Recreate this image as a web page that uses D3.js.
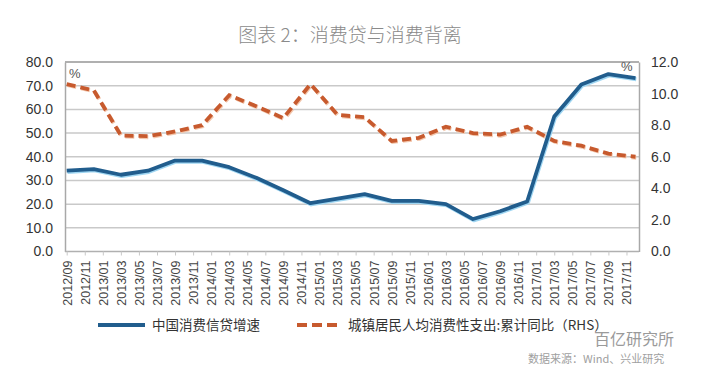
<!DOCTYPE html>
<html>
<head>
<meta charset="utf-8">
<script src="https://cdn.jsdelivr.net/npm/d3@7/dist/d3.min.js"></script>
<style>
  body { margin: 0; background: #fff; }
  svg { display: block; font-family: "Liberation Sans", Arial, sans-serif; }
  .cjk { font-family: "Noto Sans CJK SC", sans-serif; }
</style>
</head>
<body>
<div id="chart"></div>
<script>
// quarterly observations
var quarters = ["2012/09","2012/12","2013/03","2013/06","2013/09","2013/12","2014/03","2014/06",
  "2014/09","2014/12","2015/03","2015/06","2015/09","2015/12","2016/03","2016/06","2016/09",
  "2016/12","2017/03","2017/06","2017/09","2017/12"];
// 中国消费信贷增速 (left axis)
var creditGrowth = [34.1, 34.8, 32.4, 34.1, 38.4, 38.4, 35.6, 31.1, 25.9, 20.4, 22.3, 24.2,
  21.4, 21.4, 20.0, 13.7, 17.0, 21.1, 57.0, 70.5, 74.9, 73.2];
// 城镇居民人均消费性支出:累计同比 (right axis)
var consumption = [10.6, 10.2, 7.35, 7.3, 7.6, 8.0, 9.9, 9.2, 8.45, 10.6, 8.65, 8.5,
  7.0, 7.2, 7.9, 7.5, 7.4, 7.9, 7.0, 6.7, 6.2, 6.0];
// x tick labels (every 2 months)
var tickLabels = ["2012/09","2012/11","2013/01","2013/03","2013/05","2013/07","2013/09","2013/11",
  "2014/01","2014/03","2014/05","2014/07","2014/09","2014/11","2015/01","2015/03","2015/05",
  "2015/07","2015/09","2015/11","2016/01","2016/03","2016/05","2016/07","2016/09","2016/11",
  "2017/01","2017/03","2017/05","2017/07","2017/09","2017/11"];
var leftTicks = [0, 10, 20, 30, 40, 50, 60, 70, 80];
var rightTicks = [0, 2, 4, 6, 8, 10, 12];

var width = 703, height = 365;
var plot = {left: 65, right: 639, top: 62, bottom: 251.5};

var svg = d3.select("#chart").append("svg")
    .attr("width", width)
    .attr("height", height);

function monthIndex(s) {
    var p = s.split("/");
    return (+p[0] - 2012) * 12 + (+p[1]) - 9;
}

var x = d3.scaleLinear().domain([0, monthIndex("2017/12")]).range([66.7, 635.5]);
var yL = d3.scaleLinear().domain([0, 80]).range([plot.bottom, plot.top]);
var yR = d3.scaleLinear().domain([0, 12]).range([plot.bottom, plot.top]);

// title
svg.append("text")
    .attr("class", "cjk")
    .attr("x", 350).attr("y", 42)
    .attr("text-anchor", "middle")
    .attr("font-size", "19px")
    .attr("font-weight", 300)
    .attr("fill", "#8a8a8a")
    .text("图表 2：消费贷与消费背离");

// gridlines
svg.append("g")
    .selectAll("line")
    .data(leftTicks.slice(1, -1))
    .enter().append("line")
    .attr("x1", plot.left).attr("x2", plot.right)
    .attr("y1", function(d) { return yL(d); })
    .attr("y2", function(d) { return yL(d); })
    .attr("stroke", "#c9c9c9")
    .attr("stroke-width", 1.5);

// frame top
svg.append("line")
    .attr("x1", plot.left).attr("x2", plot.right)
    .attr("y1", plot.top).attr("y2", plot.top)
    .attr("stroke", "#b0b0b0").attr("stroke-width", 2);

// left axis
var gl = svg.append("g")
    .attr("transform", "translate(" + plot.left + ",0)")
    .call(d3.axisLeft(yL).tickValues(leftTicks).tickSize(0).tickPadding(12)
        .tickFormat(function(d) { return d.toFixed(1); }));
gl.select(".domain").attr("stroke", "#a8a8a8").attr("stroke-width", 1.5);
gl.selectAll("text").attr("font-size", "14px").attr("fill", "#333")
    .attr("font-family", "Liberation Sans, Arial, sans-serif");

// right axis
var gr = svg.append("g")
    .attr("transform", "translate(" + plot.right + ",0)")
    .call(d3.axisRight(yR).tickValues(rightTicks).tickSize(0).tickPadding(12)
        .tickFormat(function(d) { return d.toFixed(1); }));
gr.select(".domain").attr("stroke", "#a8a8a8").attr("stroke-width", 1.5);
gr.selectAll("text").attr("font-size", "14px").attr("fill", "#333")
    .attr("font-family", "Liberation Sans, Arial, sans-serif");

// bottom axis
var gb = svg.append("g")
    .attr("transform", "translate(0," + plot.bottom + ")")
    .call(d3.axisBottom(x)
        .tickValues(tickLabels.map(monthIndex))
        .tickSize(4)
        .tickFormat(function(d, i) { return tickLabels[i]; }));
gb.select(".domain").attr("d", "M" + plot.left + ",0H" + plot.right)
    .attr("stroke", "#b0b0b0").attr("stroke-width", 1.5);
gb.selectAll(".tick line").attr("stroke", "#c8c8c8");
gb.selectAll("text")
    .attr("font-size", "12.5px")
    .attr("fill", "#444")
    .attr("font-family", "Liberation Sans, Arial, sans-serif")
    .attr("text-anchor", "end")
    .attr("transform", "rotate(-90)")
    .attr("x", -9).attr("y", 0).attr("dy", "0.35em");

// % markers
svg.append("text").attr("x", 69).attr("y", 78)
    .attr("font-size", "13px").attr("fill", "#555").text("%");
svg.append("text").attr("x", 621).attr("y", 71)
    .attr("font-size", "13px").attr("fill", "#555").text("%");

var lineL = d3.line()
    .x(function(d, i) { return x(monthIndex(quarters[i])); })
    .y(function(d) { return yL(d); });
var lineR = d3.line()
    .x(function(d, i) { return x(monthIndex(quarters[i])); })
    .y(function(d) { return yR(d); });

// consumption (dashed, right axis)
svg.append("path")
    .datum(consumption)
    .attr("d", lineR)
    .attr("transform", "translate(0.8,1)")
    .attr("fill", "none")
    .attr("stroke", "#f3c7ad")
    .attr("stroke-width", 4)
    .attr("stroke-dasharray", "9,5");
svg.append("path")
    .datum(consumption)
    .attr("d", lineR)
    .attr("fill", "none")
    .attr("stroke", "#c75a2e")
    .attr("stroke-width", 3.8)
    .attr("stroke-dasharray", "9,5");

// credit growth (solid, left axis)
svg.append("path")
    .datum(creditGrowth)
    .attr("d", lineL)
    .attr("transform", "translate(0.8,1.2)")
    .attr("fill", "none")
    .attr("stroke", "#9fd6f2")
    .attr("stroke-width", 4)
    .attr("stroke-linejoin", "round");
svg.append("path")
    .datum(creditGrowth)
    .attr("d", lineL)
    .attr("fill", "none")
    .attr("stroke", "#215d8d")
    .attr("stroke-width", 3.8)
    .attr("stroke-linejoin", "round");

// legend
var legend = svg.append("g").attr("transform", "translate(0,325)");
legend.append("line")
    .attr("x1", 98).attr("x2", 145)
    .attr("stroke", "#215d8d").attr("stroke-width", 4);
legend.append("text").attr("class", "cjk")
    .attr("x", 152).attr("y", 5)
    .attr("font-size", "13.5px").attr("fill", "#333")
    .text("中国消费信贷增速");
legend.append("line")
    .attr("x1", 297).attr("x2", 340)
    .attr("stroke", "#c75a2e").attr("stroke-width", 4)
    .attr("stroke-dasharray", "10,5");
legend.append("text").attr("class", "cjk")
    .attr("x", 348).attr("y", 5)
    .attr("font-size", "13.5px").attr("fill", "#333")
    .text("城镇居民人均消费性支出:累计同比（RHS）");

// watermark and source
svg.append("text").attr("class", "cjk")
    .attr("x", 594).attr("y", 345)
    .attr("font-size", "16px").attr("fill", "#9a9a9a")
    .text("百亿研究所");
svg.append("text").attr("class", "cjk")
    .attr("x", 528).attr("y", 363)
    .attr("font-size", "11px").attr("fill", "#a0a0a0")
    .text("数据来源：Wind、兴业研究");
</script>
</body>
</html>
